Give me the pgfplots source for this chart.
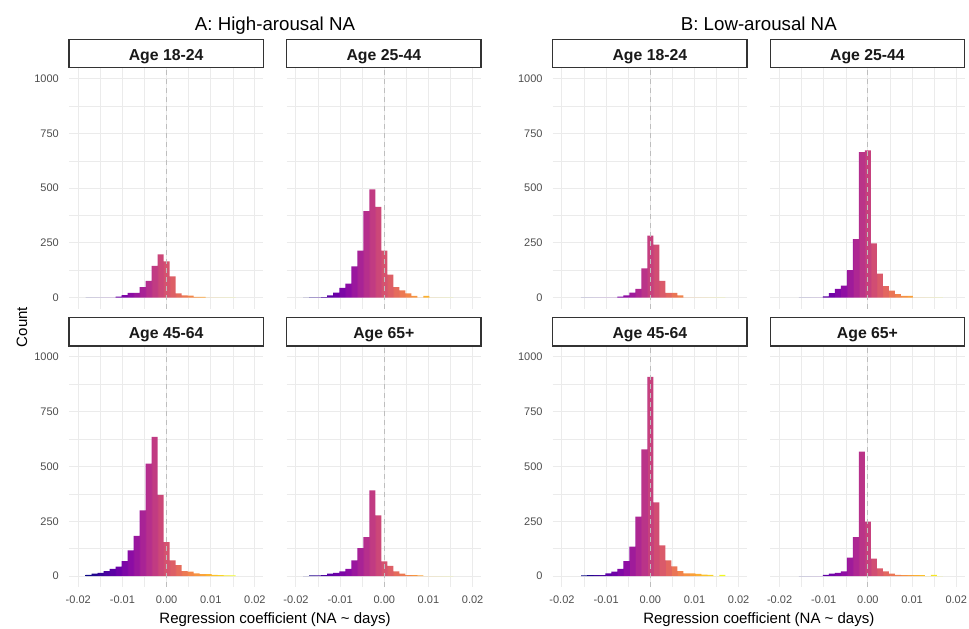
\documentclass[border=0pt]{standalone}
\usepackage{pgfplots}
\pgfplotsset{compat=1.18}
\usepackage{pgfplotstable}
\usepackage{fontspec}
\setmainfont{Liberation Sans}

\definecolor{p0}{RGB}{13,8,135}
\definecolor{p1}{RGB}{65,4,157}
\definecolor{p2}{RGB}{106,0,168}
\definecolor{p3}{RGB}{143,13,164}
\definecolor{p4}{RGB}{177,42,144}
\definecolor{p5}{RGB}{204,71,120}
\definecolor{p6}{RGB}{225,100,98}
\definecolor{p7}{RGB}{242,132,75}
\definecolor{p8}{RGB}{252,166,54}
\definecolor{p9}{RGB}{252,206,37}
\definecolor{p10}{RGB}{240,249,33}
\definecolor{gridc}{RGB}{235,235,235}
\definecolor{vlinec}{RGB}{190,190,190}
\definecolor{tickc}{RGB}{77,77,77}
\definecolor{stripc}{RGB}{51,51,51}

% bin colours (plasma at bin centres), panel group A: 25 bins
\colorlet{a0}{p0}\colorlet{a1}{p0!58!p1}\colorlet{a2}{p0!17!p1}\colorlet{a3}{p1!75!p2}
\colorlet{a4}{p1!33!p2}\colorlet{a5}{p2!92!p3}\colorlet{a6}{p2!50!p3}\colorlet{a7}{p2!8!p3}
\colorlet{a8}{p3!67!p4}\colorlet{a9}{p3!25!p4}\colorlet{a10}{p4!83!p5}\colorlet{a11}{p4!42!p5}
\colorlet{a12}{p5}\colorlet{a13}{p5!58!p6}\colorlet{a14}{p5!17!p6}\colorlet{a15}{p6!75!p7}
\colorlet{a16}{p6!33!p7}\colorlet{a17}{p7!92!p8}\colorlet{a18}{p7!50!p8}\colorlet{a19}{p7!8!p8}
\colorlet{a20}{p8!67!p9}\colorlet{a21}{p8!25!p9}\colorlet{a22}{p9!83!p10}\colorlet{a23}{p9!42!p10}
\colorlet{a24}{p10}
% panel group B: 24 bins
\colorlet{b0}{p0}\colorlet{b1}{p0!57!p1}\colorlet{b2}{p0!13!p1}\colorlet{b3}{p1!70!p2}
\colorlet{b4}{p1!26!p2}\colorlet{b5}{p2!83!p3}\colorlet{b6}{p2!39!p3}\colorlet{b7}{p3!96!p4}
\colorlet{b8}{p3!52!p4}\colorlet{b9}{p3!9!p4}\colorlet{b10}{p4!65!p5}\colorlet{b11}{p4!22!p5}
\colorlet{b12}{p5!78!p6}\colorlet{b13}{p5!35!p6}\colorlet{b14}{p6!91!p7}\colorlet{b15}{p6!48!p7}
\colorlet{b16}{p6!4!p7}\colorlet{b17}{p7!61!p8}\colorlet{b18}{p7!17!p8}\colorlet{b19}{p8!74!p9}
\colorlet{b20}{p8!30!p9}\colorlet{b21}{p9!87!p10}\colorlet{b22}{p9!43!p10}\colorlet{b23}{p10}

\pgfdeclarehorizontalshading{plasmaA}{100bp}{color(0bp)=(a0);
color(25.02bp)=(a0); color(26.98bp)=(a0);
color(27.02bp)=(a1); color(28.98bp)=(a1);
color(29.02bp)=(a2); color(30.98bp)=(a2);
color(31.02bp)=(a3); color(32.98bp)=(a3);
color(33.02bp)=(a4); color(34.98bp)=(a4);
color(35.02bp)=(a5); color(36.98bp)=(a5);
color(37.02bp)=(a6); color(38.98bp)=(a6);
color(39.02bp)=(a7); color(40.98bp)=(a7);
color(41.02bp)=(a8); color(42.98bp)=(a8);
color(43.02bp)=(a9); color(44.98bp)=(a9);
color(45.02bp)=(a10); color(46.98bp)=(a10);
color(47.02bp)=(a11); color(48.98bp)=(a11);
color(49.02bp)=(a12); color(50.98bp)=(a12);
color(51.02bp)=(a13); color(52.98bp)=(a13);
color(53.02bp)=(a14); color(54.98bp)=(a14);
color(55.02bp)=(a15); color(56.98bp)=(a15);
color(57.02bp)=(a16); color(58.98bp)=(a16);
color(59.02bp)=(a17); color(60.98bp)=(a17);
color(61.02bp)=(a18); color(62.98bp)=(a18);
color(63.02bp)=(a19); color(64.98bp)=(a19);
color(65.02bp)=(a20); color(66.98bp)=(a20);
color(67.02bp)=(a21); color(68.98bp)=(a21);
color(69.02bp)=(a22); color(70.98bp)=(a22);
color(71.02bp)=(a23); color(72.98bp)=(a23);
color(73.02bp)=(a24); color(74.98bp)=(a24);
color(100bp)=(a24)}

\pgfdeclarehorizontalshading{plasmaB}{100bp}{color(0bp)=(b0);
color(25.02bp)=(b0); color(27.06bp)=(b0);
color(27.10bp)=(b1); color(29.15bp)=(b1);
color(29.19bp)=(b2); color(31.23bp)=(b2);
color(31.27bp)=(b3); color(33.31bp)=(b3);
color(33.35bp)=(b4); color(35.40bp)=(b4);
color(35.44bp)=(b5); color(37.48bp)=(b5);
color(37.52bp)=(b6); color(39.56bp)=(b6);
color(39.60bp)=(b7); color(41.65bp)=(b7);
color(41.69bp)=(b8); color(43.73bp)=(b8);
color(43.77bp)=(b9); color(45.81bp)=(b9);
color(45.85bp)=(b10); color(47.90bp)=(b10);
color(47.94bp)=(b11); color(49.98bp)=(b11);
color(50.02bp)=(b12); color(52.06bp)=(b12);
color(52.10bp)=(b13); color(54.15bp)=(b13);
color(54.19bp)=(b14); color(56.23bp)=(b14);
color(56.27bp)=(b15); color(58.31bp)=(b15);
color(58.35bp)=(b16); color(60.40bp)=(b16);
color(60.44bp)=(b17); color(62.48bp)=(b17);
color(62.52bp)=(b18); color(64.56bp)=(b18);
color(64.60bp)=(b19); color(66.65bp)=(b19);
color(66.69bp)=(b20); color(68.73bp)=(b20);
color(68.77bp)=(b21); color(70.81bp)=(b21);
color(70.85bp)=(b22); color(72.90bp)=(b22);
color(72.94bp)=(b23); color(74.98bp)=(b23);
color(100bp)=(b23)}

\newcommand\tickfont{\fontsize{11bp}{13bp}\selectfont}
\newcommand\stripfont{\fontsize{15.8bp}{18bp}\selectfont\bfseries}
\newcommand\titlefont{\fontsize{18.7bp}{22bp}\selectfont}
\newcommand\labfont{\fontsize{15bp}{18bp}\selectfont}

% x = left edge of bin; c1..c4 = Age 18-24, 25-44, 45-64, 65+
\pgfplotstableread{
x        c1  c2  c3  c4
-0.01836 0   0   5   0
-0.01700 0   2   11  3
-0.01564 0   2   15  3
-0.01428 0   3   23  4
-0.01292 0   11  33  11
-0.01156 5   23  43  15
-0.01020 12  45  68  21
-0.00884 22  65  117 33
-0.00748 22  143 183 72
-0.00612 49  215 300 128
-0.00476 77  395 513 178
-0.00340 145 495 635 391
-0.00204 198 415 370 277
-0.00068 166 215 155 67
0.00068  98  105 72  46
0.00204  20  49  50  21
0.00340  11  34  23  11
0.00476  10  20  20  4
0.00612  4   8   12  4
0.00748  4   0   9   3
0.00884  0   9   9   0
0.01020  0   0   5   0
0.01156  0   0   4   0
0.01292  0   0   3   0
0.01428  0   0   3   0
0.01564  0   0   3   0
}\histA

\pgfplotstableread{
x        c1  c2  c3  c4
-0.01564 0   0   3   0
-0.01428 0   0   4   0
-0.01292 0   0   4   0
-0.01156 0   0   4   0
-0.01020 0   6   12  5
-0.00884 0   21  20  11
-0.00748 5   40  33  15
-0.00612 11  55  68  21
-0.00476 23  126 134 84
-0.00340 40  268 271 178
-0.00204 134 665 578 568
-0.00068 283 673 909 248
0.00068  243 248 336 79
0.00204  77  110 140 35
0.00340  22  53  72  21
0.00476  22  33  44  11
0.00612  11  17  23  5
0.00748  0   9   12  4
0.00884  0   9   12  4
0.01020  0   0   10  4
0.01156  0   0   7   4
0.01292  0   0   5   0
0.01428  0   0   0   5
0.01564  0   0   5   0
0.01700  0   0   5   0
}\histB

\pgfplotsset{
  panel/.style={
    scale only axis, width=194.3bp, height=241bp, anchor=north west,
    xmin=-0.0221, xmax=0.0219, ymin=-50, ymax=1050,
    scaled x ticks=false, scaled y ticks=false,
    axis line style={draw=none},
    major tick length=0pt, minor tick length=0pt,
    xtick={-0.02,-0.01,0,0.01,0.02},
    minor xtick={-0.015,-0.005,0.005,0.015},
    ytick={0,250,500,750,1000},
    minor ytick={125,375,625,875},
    grid=both,
    major grid style={draw=gridc, line width=1bp},
    minor grid style={draw=gridc, line width=0.6bp},
    xticklabels={-0.02,-0.01,0.00,0.01,0.02},
    yticklabels={0,250,500,750,1000},
    xticklabel style={font=\tickfont, text=tickc, anchor=north, inner sep=0pt, yshift=-9bp},
    yticklabel style={font=\tickfont, text=tickc, anchor=east, inner sep=0pt, xshift=-10bp},
  },
  noxlab/.style={xticklabels={}},
  noylab/.style={yticklabels={}},
  histA/.style={const plot, draw=none, shade, shading=plasmaA},
  histB/.style={const plot, draw=none, shade, shading=plasmaB},
  zline/.style={vlinec, line width=1.1bp, dash pattern=on 5bp off 4bp},
}

\newcommand{\strip}[2]{%
  \draw[draw=stripc, line width=1.1bp, fill=white] (#1.north west) rectangle ([yshift=28.3bp]#1.north east);
  \node[font=\stripfont, text=black!90, anchor=base] at ([yshift=7.4bp]#1.north) {#2};
}

\begin{document}
\begin{tikzpicture}
\useasboundingbox (0,0) rectangle (969bp,-629bp);

% ---------- A: High-arousal NA ----------
\begin{axis}[panel, noxlab, name=a1, at={(69bp,-67.7bp)}]
\addplot[histA] table[x=x, y=c1] {\histA} \closedcycle;
\addplot[zline] coordinates {(0,-50) (0,1050)};
\end{axis}
\begin{axis}[panel, noxlab, noylab, name=a2, at={(286.7bp,-67.7bp)}]
\addplot[histA] table[x=x, y=c2] {\histA} \closedcycle;
\addplot[zline] coordinates {(0,-50) (0,1050)};
\end{axis}
\begin{axis}[panel, name=a3, at={(69bp,-346bp)}]
\addplot[histA] table[x=x, y=c3] {\histA} \closedcycle;
\addplot[zline] coordinates {(0,-50) (0,1050)};
\end{axis}
\begin{axis}[panel, noylab, name=a4, at={(286.7bp,-346bp)}]
\addplot[histA] table[x=x, y=c4] {\histA} \closedcycle;
\addplot[zline] coordinates {(0,-50) (0,1050)};
\end{axis}

% ---------- B: Low-arousal NA ----------
\begin{axis}[panel, noxlab, name=b1, at={(552.7bp,-67.7bp)}]
\addplot[histB] table[x=x, y=c1] {\histB} \closedcycle;
\addplot[zline] coordinates {(0,-50) (0,1050)};
\end{axis}
\begin{axis}[panel, noxlab, noylab, name=b2, at={(770.3bp,-67.7bp)}]
\addplot[histB] table[x=x, y=c2] {\histB} \closedcycle;
\addplot[zline] coordinates {(0,-50) (0,1050)};
\end{axis}
\begin{axis}[panel, name=b3, at={(552.7bp,-346bp)}]
\addplot[histB] table[x=x, y=c3] {\histB} \closedcycle;
\addplot[zline] coordinates {(0,-50) (0,1050)};
\end{axis}
\begin{axis}[panel, noylab, name=b4, at={(770.3bp,-346bp)}]
\addplot[histB] table[x=x, y=c4] {\histB} \closedcycle;
\addplot[zline] coordinates {(0,-50) (0,1050)};
\end{axis}

\strip{a1}{Age 18-24}
\strip{a2}{Age 25-44}
\strip{a3}{Age 45-64}
\strip{a4}{Age 65+}
\strip{b1}{Age 18-24}
\strip{b2}{Age 25-44}
\strip{b3}{Age 45-64}
\strip{b4}{Age 65+}

\node[font=\titlefont, anchor=base] at (275bp,-30bp) {A: High-arousal NA};
\node[font=\titlefont, anchor=base] at (758.8bp,-30bp) {B: Low-arousal NA};
\node[font=\labfont, anchor=base] at (275bp,-623.5bp) {Regression coefficient (NA \textasciitilde{} days)};
\node[font=\labfont, anchor=base] at (758.8bp,-623.5bp) {Regression coefficient (NA \textasciitilde{} days)};
\node[font=\labfont, anchor=base, rotate=90] at (27bp,-327bp) {Count};
\end{tikzpicture}
\end{document}
